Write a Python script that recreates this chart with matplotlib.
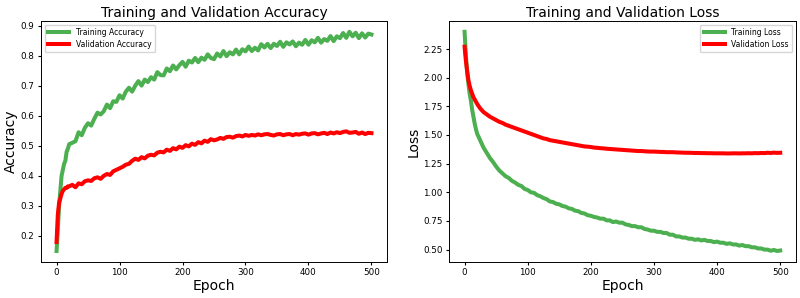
import numpy as np
import matplotlib
matplotlib.use("Agg")
import matplotlib.pyplot as plt

# epochs: dense sampling at the start, then every 5 epochs
epochs_early = [0, 2, 4, 6, 8, 10, 12, 14, 16, 18, 20]
epochs_late = list(range(25, 501, 5))
epochs = epochs_early + epochs_late

train_acc = [
    0.15, 0.22, 0.30, 0.35, 0.40, 0.42, 0.44, 0.45, 0.48, 0.49, 0.505,
    0.51, 0.515, 0.545, 0.535, 0.56, 0.575, 0.567, 0.59, 0.61, 0.604,
    0.615, 0.637, 0.625, 0.648, 0.646, 0.668, 0.657, 0.68, 0.693, 0.68,
    0.70, 0.715, 0.70, 0.72, 0.712, 0.728, 0.72, 0.745, 0.735, 0.734,
    0.757, 0.748, 0.767, 0.754, 0.768, 0.779, 0.763, 0.783, 0.777, 0.792,
    0.778, 0.793, 0.786, 0.804, 0.792, 0.788, 0.807, 0.797, 0.815, 0.798,
    0.811, 0.804, 0.82, 0.804, 0.821, 0.814, 0.83, 0.815, 0.826, 0.817,
    0.838, 0.827, 0.839, 0.825, 0.839, 0.832, 0.846, 0.829, 0.844, 0.837,
    0.847, 0.831, 0.843, 0.836, 0.852, 0.836, 0.851, 0.844, 0.859, 0.843,
    0.855, 0.849, 0.865, 0.848, 0.864, 0.858, 0.875, 0.859, 0.879, 0.864,
    0.876, 0.858, 0.874, 0.86, 0.873, 0.87,
]

val_acc = [
    0.18, 0.27, 0.31, 0.325, 0.34, 0.35, 0.355, 0.36, 0.36, 0.365, 0.365,
    0.37, 0.362, 0.375, 0.372, 0.382, 0.385, 0.383, 0.392, 0.395, 0.39,
    0.40, 0.406, 0.403, 0.415, 0.42, 0.425, 0.43, 0.437, 0.44, 0.45,
    0.457, 0.453, 0.462, 0.458, 0.467, 0.47, 0.468, 0.477, 0.48, 0.478,
    0.487, 0.483, 0.492, 0.488, 0.497, 0.493, 0.502, 0.498, 0.507, 0.503,
    0.512, 0.508, 0.517, 0.513, 0.522, 0.518, 0.521, 0.526, 0.523, 0.529,
    0.53, 0.527, 0.532, 0.534, 0.531, 0.536, 0.533, 0.536, 0.534, 0.538,
    0.535, 0.538, 0.539, 0.536, 0.534, 0.538, 0.539, 0.535, 0.538, 0.539,
    0.535, 0.539, 0.537, 0.54, 0.541, 0.537, 0.541, 0.542, 0.538, 0.541,
    0.543, 0.539, 0.544, 0.541, 0.545, 0.542, 0.546, 0.548, 0.543, 0.544,
    0.546, 0.54, 0.544, 0.539, 0.543, 0.542,
]

train_loss = [
    2.40, 2.20, 2.05, 1.95, 1.86, 1.80, 1.72, 1.66, 1.60, 1.55, 1.51,
    1.45, 1.39, 1.345, 1.30, 1.265, 1.225, 1.19, 1.165, 1.14, 1.125,
    1.10, 1.085, 1.065, 1.055, 1.03, 1.02, 1.0, 0.995, 0.975, 0.965,
    0.95, 0.94, 0.92, 0.915, 0.90, 0.895, 0.88, 0.875, 0.86, 0.855,
    0.84, 0.835, 0.82, 0.815, 0.80, 0.795, 0.785, 0.78, 0.77, 0.77,
    0.755, 0.755, 0.74, 0.745, 0.735, 0.735, 0.72, 0.715, 0.705, 0.705,
    0.695, 0.695, 0.68, 0.675, 0.665, 0.665, 0.655, 0.655, 0.645, 0.645,
    0.63, 0.63, 0.615, 0.615, 0.605, 0.605, 0.595, 0.595, 0.585, 0.59,
    0.58, 0.585, 0.575, 0.575, 0.565, 0.57, 0.56, 0.56, 0.55, 0.555,
    0.545, 0.545, 0.535, 0.54, 0.53, 0.53, 0.52, 0.52, 0.51, 0.51,
    0.50, 0.50, 0.49, 0.497, 0.488, 0.492,
]

val_loss = [
    2.27, 2.15, 2.06, 1.98, 1.93, 1.89, 1.86, 1.83, 1.81, 1.79, 1.77,
    1.73, 1.70, 1.68, 1.66, 1.645, 1.63, 1.615, 1.605, 1.59, 1.58,
    1.57, 1.56, 1.55, 1.54, 1.53, 1.52, 1.51, 1.50, 1.49, 1.48,
    1.47, 1.465, 1.455, 1.45, 1.445, 1.44, 1.435, 1.43, 1.425, 1.42,
    1.415, 1.41, 1.405, 1.40, 1.398, 1.395, 1.39, 1.388, 1.385, 1.383,
    1.38, 1.378, 1.376, 1.374, 1.372, 1.37, 1.368, 1.366, 1.364, 1.362,
    1.36, 1.36, 1.358, 1.356, 1.355, 1.355, 1.354, 1.352, 1.352, 1.35,
    1.35, 1.35, 1.348, 1.347, 1.346, 1.345, 1.345, 1.344, 1.343, 1.343,
    1.342, 1.342, 1.341, 1.341, 1.34, 1.34, 1.34, 1.34, 1.339, 1.339,
    1.34, 1.34, 1.339, 1.34, 1.34, 1.341, 1.34, 1.342, 1.341, 1.343,
    1.342, 1.345, 1.343, 1.346, 1.344, 1.345,
]

GREEN = "#4caf50"
RED = "#ff0000"
LW = 2.9

fig = plt.figure(figsize=(8.0, 2.98), dpi=100)
ax1 = fig.add_axes([0.051, 0.121, 0.433, 0.809])
ax2 = fig.add_axes([0.561, 0.121, 0.434, 0.809])

ax1.plot(epochs, train_acc, color=GREEN, lw=LW, label="Training Accuracy")
ax1.plot(epochs, val_acc, color=RED, lw=LW, label="Validation Accuracy")
ax1.set_title("Training and Validation Accuracy", fontsize=10, pad=3)
ax1.set_xlabel("Epoch", fontsize=10, labelpad=1)
ax1.set_ylabel("Accuracy", fontsize=10, labelpad=2)
ax1.set_xticks([0, 100, 200, 300, 400, 500])
ax1.set_yticks([0.2, 0.3, 0.4, 0.5, 0.6, 0.7, 0.8, 0.9])
ax1.set_yticklabels(["0.2", "0.3", "0.4", "0.5", "0.6", "0.7", "0.8", "0.9"])
ax1.legend(loc="upper left", fontsize=5.5, handlelength=2.8, borderpad=0.45,
           labelspacing=0.35, fancybox=True)

ax2.plot(epochs, train_loss, color=GREEN, lw=LW, label="Training Loss")
ax2.plot(epochs, val_loss, color=RED, lw=LW, label="Validation Loss")
ax2.set_title("Training and Validation Loss", fontsize=10, pad=3)
ax2.set_xlabel("Epoch", fontsize=10, labelpad=1)
ax2.set_ylabel("Loss", fontsize=10, labelpad=2)
ax2.set_xticks([0, 100, 200, 300, 400, 500])
ax2.set_yticks([0.5, 0.75, 1.0, 1.25, 1.5, 1.75, 2.0, 2.25])
ax2.set_yticklabels(["0.50", "0.75", "1.00", "1.25", "1.50", "1.75", "2.00", "2.25"])
ax2.legend(loc="upper right", fontsize=5.5, handlelength=2.8, borderpad=0.45,
           labelspacing=0.35, fancybox=True)

for ax in (ax1, ax2):
    ax.tick_params(labelsize=6.3, length=2.5, pad=2)
    for s in ax.spines.values():
        s.set_linewidth(0.7)

fig.savefig("out.png", dpi=100)
